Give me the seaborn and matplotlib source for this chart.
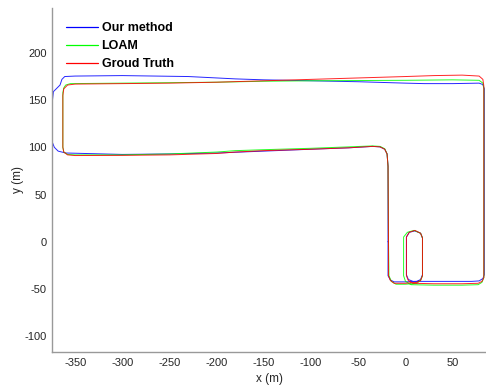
import matplotlib
matplotlib.use("Agg")
import matplotlib.pyplot as plt
from matplotlib.lines import Line2D
import seaborn as sns
import pandas as pd

# ---------------- data ----------------
ours_x = [-18.5, -18.5, -16, -12, 0, 12, 16, 18, 18, 16, 10, 4, 1, 1, 3, 8, 40, 70, 78, 82, 83.5,
          83.5, 82, 78, 50, 20, 0, -50, -100, -150, -180, -200, -230, -300, -350, -361, -364, -366, -369,
          -373, -374, -374, -372, -368, -360, -300, -250, -200, -150, -100, -60, -35, -27, -22, -19.5,
          -18.5, -18.5]
ours_y = [0, -36, -40.5, -42.5, -42.5, -42, -40, -35, 4, 9, 11.5, 10, 5, -35, -40, -42, -42, -42, -41.5, -39, -35,
          162, 166.5, 168, 167.5, 167.5, 168, 169.5, 170.5, 171.5, 172.5, 173.5, 175, 176, 175.5, 175, 172, 166, 163,
          159, 150, 105, 100, 96, 94, 92.5, 93, 94, 96, 98, 99.5, 101, 100.5, 98, 93,
          80, 0]

loam_x = [-18, -17.5, -15, -10, 0, 12, 16, 18, 18, 16, 9, 2, -2, -2, 0, 6, 30, 60, 77, 81, 83,
          83, 82, 78, 50, 0, -100, -150, -200, -250, -300, -355, -360, -362, -363,
          -363, -362, -358, -350, -300, -250, -200, -180, -150, -100, -60, -35, -27, -22, -19.5,
          -18.5, -18]
loam_y = [0, -36, -42, -45, -45, -44, -41, -36, 4, 9, 12, 10, 5, -36, -42, -45.5, -46, -46, -45.5, -43, -38,
          162, 168, 171, 171.5, 171, 170.5, 170, 169, 168.5, 168, 167.5, 166, 163, 158,
          100, 95, 92.5, 92, 92, 93, 95, 96.5, 97.5, 99, 100.5, 101.5, 101, 98.5, 93,
          80, 0]

gt_x = [-18, -18, -16, -12, 0, 12, 16, 18, 18, 16, 10, 4, 1, 1, 3, 8, 30, 60, 77, 81, 83,
        83, 82, 78, 60, 30, 0, -50, -100, -150, -200, -250, -300, -350, -358, -362, -363,
        -363, -362, -358, -350, -300, -250, -200, -180, -150, -100, -60, -35, -27, -22, -19.5,
        -18.5, -18]
gt_y = [0, -36, -41, -44, -44, -43, -41, -36, 4, 9, 12, 10, 5, -36, -41, -44, -44.5, -44.5, -44, -42, -38,
        165, 172, 175.5, 176.5, 176, 175, 173.5, 172, 170.5, 169, 168, 167.5, 167, 166, 162, 155,
        100, 95, 92, 91.3, 91.5, 92, 93.5, 95, 96.5, 98, 99.5, 101, 100.5, 98, 93,
        80, 0]

series_names = ["Our method", "LOAM", "Groud Truth"]
series_colors = ["#0000ff", "#00ff00", "#ff0000"]
x_ticks = [-350, -300, -250, -200, -150, -100, -50, 0, 50]
y_ticks = [-100, -50, 0, 50, 100, 150, 200]

# ---------------- build frame ----------------
frames = []
for name, xs, ys in zip(series_names, [ours_x, loam_x, gt_x], [ours_y, loam_y, gt_y]):
    frames.append(pd.DataFrame({"x": xs, "y": ys, "series": name}))
df = pd.concat(frames, ignore_index=True)

sns.set_style("white")
plt.rcParams["font.family"] = ["Liberation Sans", "DejaVu Sans"]
plt.rcParams["axes.unicode_minus"] = False

fig = plt.figure(figsize=(4.86, 3.91), dpi=100)
ax = fig.add_axes([52 / 486, 1 - 352 / 391, 1 - 52 / 486, (352 - 8) / 391])

sns.lineplot(data=df, x="x", y="y", hue="series", hue_order=series_names,
             palette=dict(zip(series_names, series_colors)), sort=False,
             estimator=None, units="series", linewidth=0.7, alpha=0.85,
             legend=False, ax=ax)

ax.set_xlim(-374.5, 85.3)
ax.set_ylim(-116.8, 247.6)
ax.set_xticks(x_ticks)
ax.set_yticks(y_ticks)

gray = "#999999"
txt = "#262626"
for s in ["top", "right"]:
    ax.spines[s].set_visible(False)
for s in ["left", "bottom"]:
    ax.spines[s].set_color(gray)
    ax.spines[s].set_linewidth(1.0)
ax.tick_params(direction="in", length=3.5, width=0.6, color=gray, labelcolor=txt,
               labelsize=8, pad=4)
ax.set_xlabel("x (m)", fontsize=8.5, color=txt, labelpad=4)
ax.set_ylabel("y (m)", fontsize=8.5, color=txt, labelpad=0)

handles = [Line2D([], [], color=c, linewidth=0.9) for c in series_colors]
leg = ax.legend(handles, series_names, loc="upper left", frameon=False,
                prop={"weight": "bold", "size": 9}, handlelength=2.6,
                handletextpad=0.25, labelspacing=0.5,
                bbox_to_anchor=(0.012, 0.985), borderaxespad=0.3)
for t in leg.get_texts():
    t.set_color("black")

fig.savefig("out.png", dpi=100)
